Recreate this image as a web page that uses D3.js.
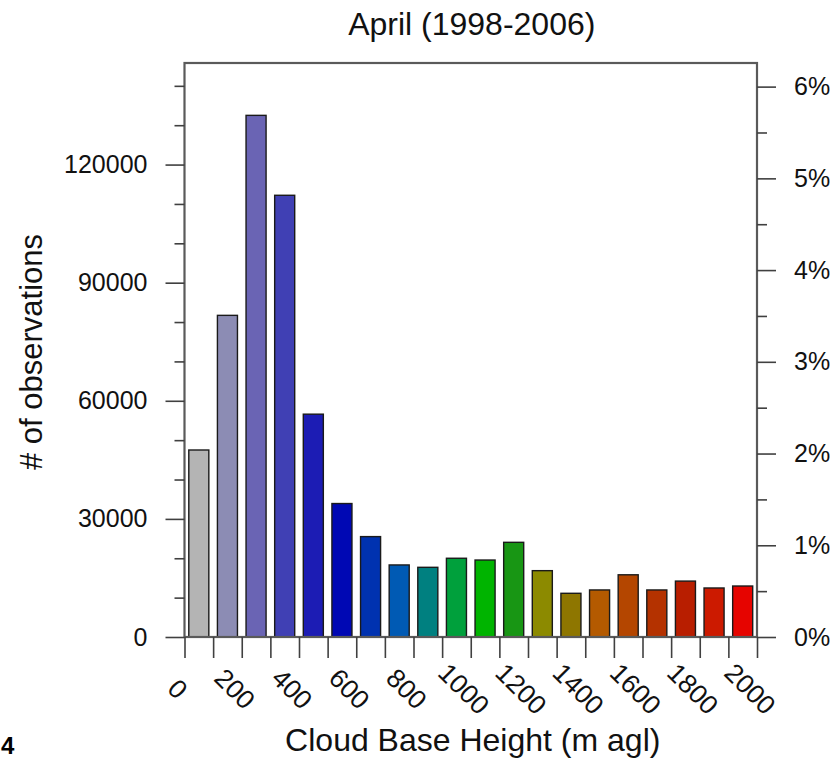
<!DOCTYPE html>
<html>
<head>
<meta charset="utf-8">
<script src="https://cdn.jsdelivr.net/npm/d3@7"></script>
<style>
  html, body { margin: 0; padding: 0; background: #fff; }
  svg { display: block; font-family: "Liberation Sans", Arial, Helvetica, sans-serif; }
</style>
</head>
<body>
<svg id="chart" width="836" height="760"></svg>
<script>
// ---------- data ----------
const binStarts = [0, 100, 200, 300, 400, 500, 600, 700, 800, 900,
                   1000, 1100, 1200, 1300, 1400, 1500, 1600, 1700, 1800, 1900];
const counts = [47500, 81700, 132500, 112200, 56600, 33900, 25500, 18300, 17700, 20000,
                19550, 24050, 16850, 11100, 11950, 15800, 11950, 14200, 12450, 12950];
const barColors = ["#b4b4b4", "#8c8cb4", "#6a64b4", "#4040b4", "#1c1cb4", "#0008b4", "#0032b0", "#005ab4", "#008080", "#00a03c",
                   "#00b400", "#189614", "#8c8a00", "#8e7600", "#b45a00", "#b44600", "#b43200", "#b81e00", "#cc1a00", "#e60400"];
const leftMajorTicks = [0, 30000, 60000, 90000, 120000];
const leftMinorTicks = [10000, 20000, 40000, 50000, 70000, 80000, 100000, 110000, 130000, 140000];
const rightMajorTicks = [0, 1, 2, 3, 4, 5, 6];
const rightMinorTicks = [0.5, 1.5, 2.5, 3.5, 4.5, 5.5];
const xTicks = [0, 100, 200, 300, 400, 500, 600, 700, 800, 900, 1000,
                1100, 1200, 1300, 1400, 1500, 1600, 1700, 1800, 1900, 2000];
const xTickLabels = [0, 200, 400, 600, 800, 1000, 1200, 1400, 1600, 1800, 2000];
const binWidth = 100;
const yMax = 145800;
const totalObs = 2330000;   // total used for the percentage axis
const title = "April (1998-2006)";
const xTitle = "Cloud Base Height (m agl)";
const yTitle = "# of observations";

// ---------- layout ----------
const L = 184.5, R = 757, T = 63, B = 637;
const svg = d3.select("#chart");

const x = d3.scaleLinear().domain([0, 2000]).range([L, R]);
const y = d3.scaleLinear().domain([0, yMax]).range([B, T]);
const yPct = d3.scaleLinear().domain([0, yMax / totalObs * 100]).range([B, T]);

const axisColor = "#404040";
const fs = 25;

// bars
const bw = x(binWidth) - x(0);
svg.append("g").selectAll("rect")
  .data(counts)
  .join("rect")
  .attr("x", (d, i) => x(binStarts[i]) + bw * 0.15)
  .attr("width", bw * 0.7)
  .attr("y", d => y(d))
  .attr("height", d => y(0) - y(d))
  .attr("fill", (d, i) => barColors[i])
  .attr("stroke", "#1a1a1a")
  .attr("stroke-width", 1.4);

// frame
svg.append("rect")
  .attr("x", L).attr("y", T).attr("width", R - L).attr("height", B - T)
  .attr("fill", "none").attr("stroke", "#5a5a5a").attr("stroke-width", 2.2);

function styleAxis(g) {
  g.select(".domain").remove();
  g.selectAll(".tick line").attr("stroke", axisColor).attr("stroke-width", 1.6);
  g.selectAll(".tick text").attr("fill", "#111").style("font-size", fs + "px")
    .style("font-family", '"Liberation Sans", Arial, Helvetica, sans-serif');
}

// left axis
svg.append("g").attr("transform", `translate(${L},0)`)
  .call(d3.axisLeft(y).tickValues(leftMajorTicks).tickSize(19).tickPadding(18).tickFormat(d3.format("d")))
  .call(styleAxis);
svg.append("g").attr("transform", `translate(${L},0)`)
  .call(d3.axisLeft(y).tickValues(leftMinorTicks).tickSize(10).tickFormat(""))
  .call(styleAxis);

// right axis (percent)
svg.append("g").attr("transform", `translate(${R},0)`)
  .call(d3.axisRight(yPct).tickValues(rightMajorTicks).tickSize(19).tickPadding(18).tickFormat(d => d + "%"))
  .call(styleAxis);
svg.append("g").attr("transform", `translate(${R},0)`)
  .call(d3.axisRight(yPct).tickValues(rightMinorTicks).tickSize(10).tickFormat(""))
  .call(styleAxis);

// bottom axis
svg.append("g").attr("transform", `translate(0,${B})`)
  .call(d3.axisBottom(x).tickValues(xTicks).tickSize(21).tickFormat(""))
  .call(styleAxis);

svg.append("g").selectAll("text")
  .data(xTickLabels)
  .join("text")
  .attr("transform", d => `translate(${x(d) - 7},689) rotate(45)`)
  .attr("text-anchor", "middle")
  .attr("dominant-baseline", "central")
  .style("font-size", "26.5px")
  .attr("fill", "#111")
  .text(d => d);

// titles
svg.append("text")
  .attr("x", (L + R) / 2 + 1).attr("y", 35)
  .attr("text-anchor", "middle")
  .style("font-size", "32px").attr("fill", "#111")
  .text(title);

svg.append("text")
  .attr("x", (L + R) / 2 + 2).attr("y", 751)
  .attr("text-anchor", "middle")
  .style("font-size", "32px").attr("fill", "#111")
  .text(xTitle);

svg.append("text")
  .attr("transform", `translate(42,${(T + B) / 2 + 2}) rotate(-90)`)
  .attr("text-anchor", "middle")
  .style("font-size", "31px").attr("fill", "#111")
  .text(yTitle);

// panel label fragment at bottom-left
svg.append("text")
  .attr("x", 1).attr("y", 754)
  .style("font-size", "24px").style("font-weight", "bold").attr("fill", "#000")
  .text("4");
</script>
</body>
</html>
